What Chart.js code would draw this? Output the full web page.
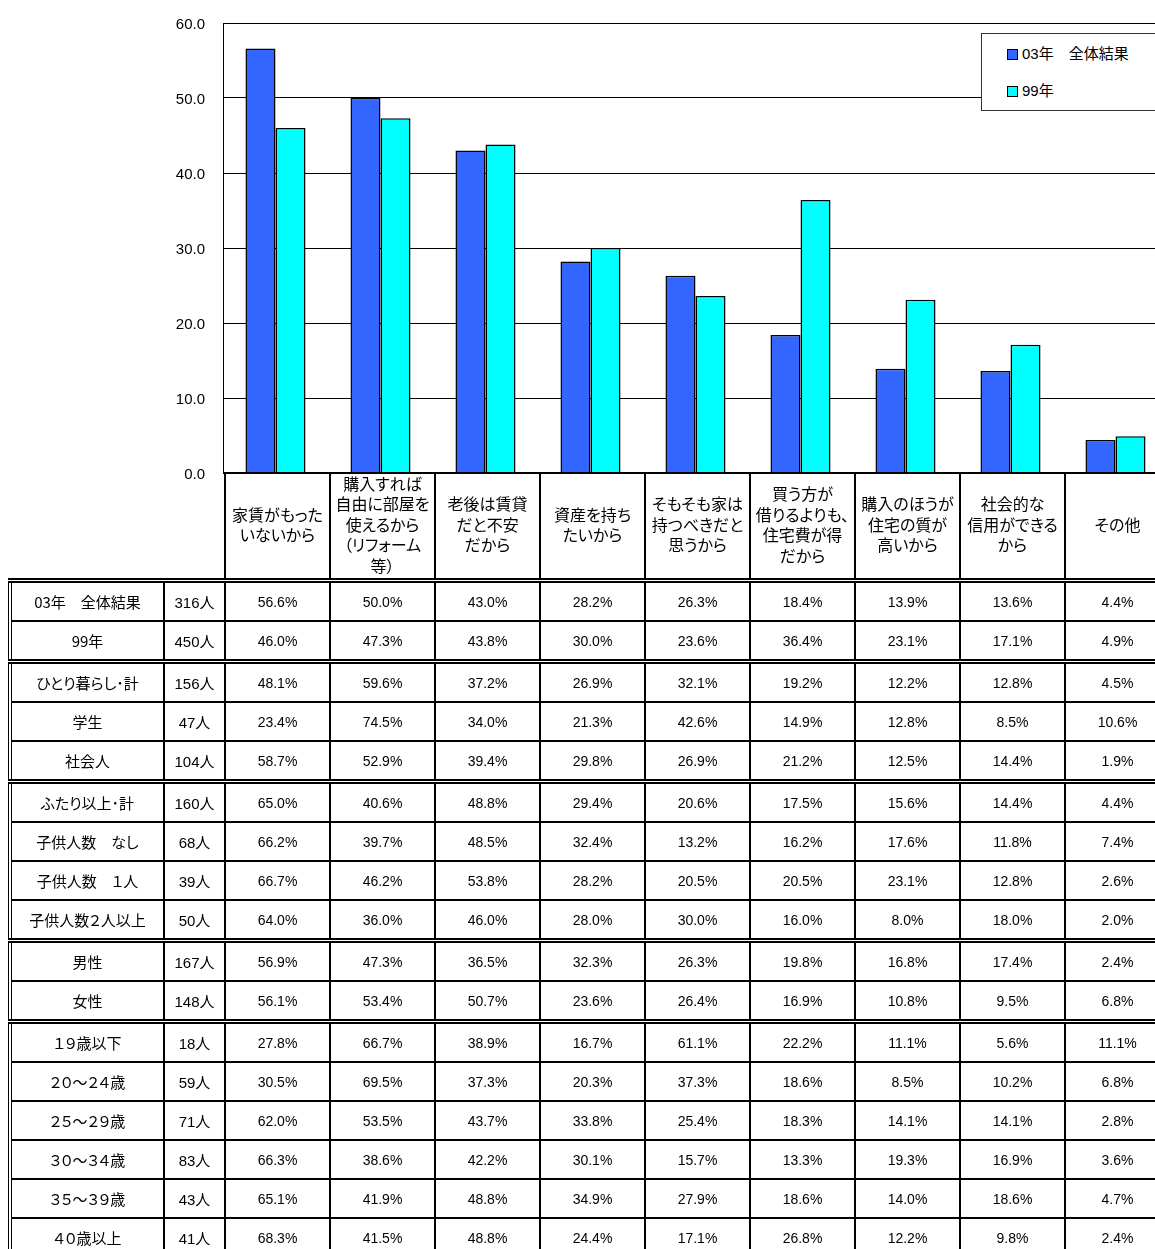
<!DOCTYPE html>
<html lang="ja">
<head>
<meta charset="utf-8">
<script src="https://cdn.jsdelivr.net/npm/chart.js@4.4.0/dist/chart.umd.min.js"></script>
<style>
  html, body { margin: 0; padding: 0; background: #fff; overflow: hidden; }
  #wrap { position: relative; width: 1155px; height: 1249px; overflow: hidden; }
  #chart { position: absolute; left: 0; top: 0; }
  #legend {
    position: absolute; left: 981px; top: 33px; width: 200px; height: 78px;
    border: 1px solid #333; background: #fff; box-sizing: border-box;
    font: 15px "Liberation Sans", "Noto Sans CJK JP", sans-serif; color: #000;
    font-feature-settings: "palt";
  }
  #legend .item { position: absolute; left: 25px; height: 20px; line-height: 20px; white-space: nowrap; }
  #legend .sw { display: inline-block; width: 9px; height: 9px; border: 1px solid #000; margin-right: 4px; vertical-align: -1px; }
  #tbl {
    position: absolute; left: 8px; top: 472px;
    border-collapse: collapse; table-layout: fixed; width: 1162px;
    font-family: "Liberation Sans", "Noto Sans CJK JP", sans-serif; color: #000;
    font-feature-settings: "palt";
  }
  #tbl td { padding: 0; text-align: center; vertical-align: middle; white-space: nowrap; }
  #tbl td.hd { border: 2px solid #000; border-bottom: 5px double #000; height: 104px; font-size: 16px; line-height: 20.5px; }
  #tbl td.blank { border: none; }
  #tbl tr.row td { border: 2px solid #000; height: 37px; font-size: 14px; }
  #tbl tr.row td.lbl { border-left: 4px double #000; font-size: 15px; font-family: "Noto Sans CJK JP", sans-serif; }
  #tbl tr.row td.cnt { font-size: 15px; }
  #tbl tr.first td { border-top: 5px double #000; }
  #tbl tr.sep td { border-top: 5px double #000; }
</style>
</head>
<body>
<div id="wrap">
  <canvas id="chart" width="1168" height="483"></canvas>
  <div id="legend"></div>
  <table id="tbl"></table>
</div>
<script>
// category labels, one entry per line as printed
const categories = [
  ['家賃がもった', 'いないから'],
  ['購入すれば', '自由に部屋を', '使えるから', '（リフォーム', '等）'],
  ['老後は賃貸', 'だと不安', 'だから'],
  ['資産を持ち', 'たいから'],
  ['そもそも家は', '持つべきだと', '思うから'],
  ['買う方が', '借りるよりも、', '住宅費が得', 'だから'],
  ['購入のほうが', '住宅の質が', '高いから'],
  ['社会的な', '信用ができる', 'から'],
  ['その他']
];
const seriesNames = ['03年　全体結果', '99年'];
const series03 = [56.6, 50.0, 43.0, 28.2, 26.3, 18.4, 13.9, 13.6, 4.4];
const series99 = [46.0, 47.3, 43.8, 30.0, 23.6, 36.4, 23.1, 17.1, 4.9];
const yMin = 0, yMax = 60, yStep = 10;

// table below the chart
const rowLabels = [
  '03年　全体結果', '99年',
  'ひとり暮らし･計', '学生', '社会人',
  'ふたり以上･計', '子供人数　なし', '子供人数　１人', '子供人数２人以上',
  '男性', '女性',
  '１９歳以下', '２０～２４歳', '２５～２９歳', '３０～３４歳', '３５～３９歳', '４０歳以上'
];
const rowCounts = ['316人', '450人', '156人', '47人', '104人', '160人', '68人', '39人', '50人',
  '167人', '148人', '18人', '59人', '71人', '83人', '43人', '41人'];
const rowValues = [
  [56.6, 50.0, 43.0, 28.2, 26.3, 18.4, 13.9, 13.6, 4.4],
  [46.0, 47.3, 43.8, 30.0, 23.6, 36.4, 23.1, 17.1, 4.9],
  [48.1, 59.6, 37.2, 26.9, 32.1, 19.2, 12.2, 12.8, 4.5],
  [23.4, 74.5, 34.0, 21.3, 42.6, 14.9, 12.8, 8.5, 10.6],
  [58.7, 52.9, 39.4, 29.8, 26.9, 21.2, 12.5, 14.4, 1.9],
  [65.0, 40.6, 48.8, 29.4, 20.6, 17.5, 15.6, 14.4, 4.4],
  [66.2, 39.7, 48.5, 32.4, 13.2, 16.2, 17.6, 11.8, 7.4],
  [66.7, 46.2, 53.8, 28.2, 20.5, 20.5, 23.1, 12.8, 2.6],
  [64.0, 36.0, 46.0, 28.0, 30.0, 16.0, 8.0, 18.0, 2.0],
  [56.9, 47.3, 36.5, 32.3, 26.3, 19.8, 16.8, 17.4, 2.4],
  [56.1, 53.4, 50.7, 23.6, 26.4, 16.9, 10.8, 9.5, 6.8],
  [27.8, 66.7, 38.9, 16.7, 61.1, 22.2, 11.1, 5.6, 11.1],
  [30.5, 69.5, 37.3, 20.3, 37.3, 18.6, 8.5, 10.2, 6.8],
  [62.0, 53.5, 43.7, 33.8, 25.4, 18.3, 14.1, 14.1, 2.8],
  [66.3, 38.6, 42.2, 30.1, 15.7, 13.3, 19.3, 16.9, 3.6],
  [65.1, 41.9, 48.8, 34.9, 27.9, 18.6, 14.0, 18.6, 4.7],
  [68.3, 41.5, 48.8, 24.4, 17.1, 26.8, 12.2, 9.8, 2.4]
];
// rows that start a new group (double line above)
const groupStarts = [2, 5, 9, 11];

const colors = ['#3366ff', '#00ffff'];

document.addEventListener('DOMContentLoaded', function () {
  var ctx = document.getElementById('chart').getContext('2d');
  var chart = new Chart(ctx, {
    type: 'bar',
    data: {
      labels: categories.map(c => c.join('')),
      datasets: [
        { label: seriesNames[0], data: series03, backgroundColor: colors[0], borderColor: '#000', borderWidth: 1.5,
          categoryPercentage: 0.572, barPercentage: 1.0 },
        { label: seriesNames[1], data: series99, backgroundColor: colors[1], borderColor: '#000', borderWidth: 1.5,
          categoryPercentage: 0.572, barPercentage: 1.0 }
      ]
    },
    options: {
      responsive: false,
      animation: false,
      layout: { padding: { top: 23, bottom: 10, left: 0, right: 0 } },
      plugins: { legend: { display: false }, tooltip: { enabled: false } },
      scales: {
        x: { display: false },
        y: {
          min: yMin, max: yMax,
          ticks: {
            stepSize: yStep, padding: 1, color: '#000', labelOffset: 2,
            font: { family: 'Liberation Sans', size: 15 },
            callback: v => v.toFixed(1)
          },
          // invisible tick marks push the labels away from the axis
          grid: { color: '#000', lineWidth: 1, drawTicks: true, tickLength: 17, tickColor: 'rgba(0,0,0,0)' },
          border: { display: true, color: '#000', width: 1 },
          afterFit: function (scale) { scale.width = 223; }
        }
      }
    }
  });

  // legend box
  var legend = document.getElementById('legend');
  chart.data.datasets.forEach(function (ds, i) {
    var item = document.createElement('div');
    item.className = 'item';
    item.style.top = (10 + i * 37) + 'px';
    item.innerHTML = '<span class="sw" style="background:' + ds.backgroundColor + '"></span>' + ds.label;
    legend.appendChild(item);
  });

  // table: header row with category labels, then data rows
  var tbl = document.getElementById('tbl');
  var html = '<colgroup><col style="width:154px"><col style="width:61px">';
  categories.forEach(function () { html += '<col style="width:105px">'; });
  html += '</colgroup><tr><td class="blank"></td><td class="blank"></td>';
  categories.forEach(function (c) { html += '<td class="hd">' + c.join('<br>') + '</td>'; });
  html += '</tr>';
  rowLabels.forEach(function (label, r) {
    var cls = 'row' + (r === 0 ? ' first' : '') + (groupStarts.indexOf(r) >= 0 ? ' sep' : '');
    html += '<tr class="' + cls + '"><td class="lbl">' + label + '</td><td class="cnt">' + rowCounts[r] + '</td>';
    rowValues[r].forEach(function (v) { html += '<td>' + v.toFixed(1) + '%</td>'; });
    html += '</tr>';
  });
  tbl.innerHTML = html;
});
</script>
</body>
</html>
